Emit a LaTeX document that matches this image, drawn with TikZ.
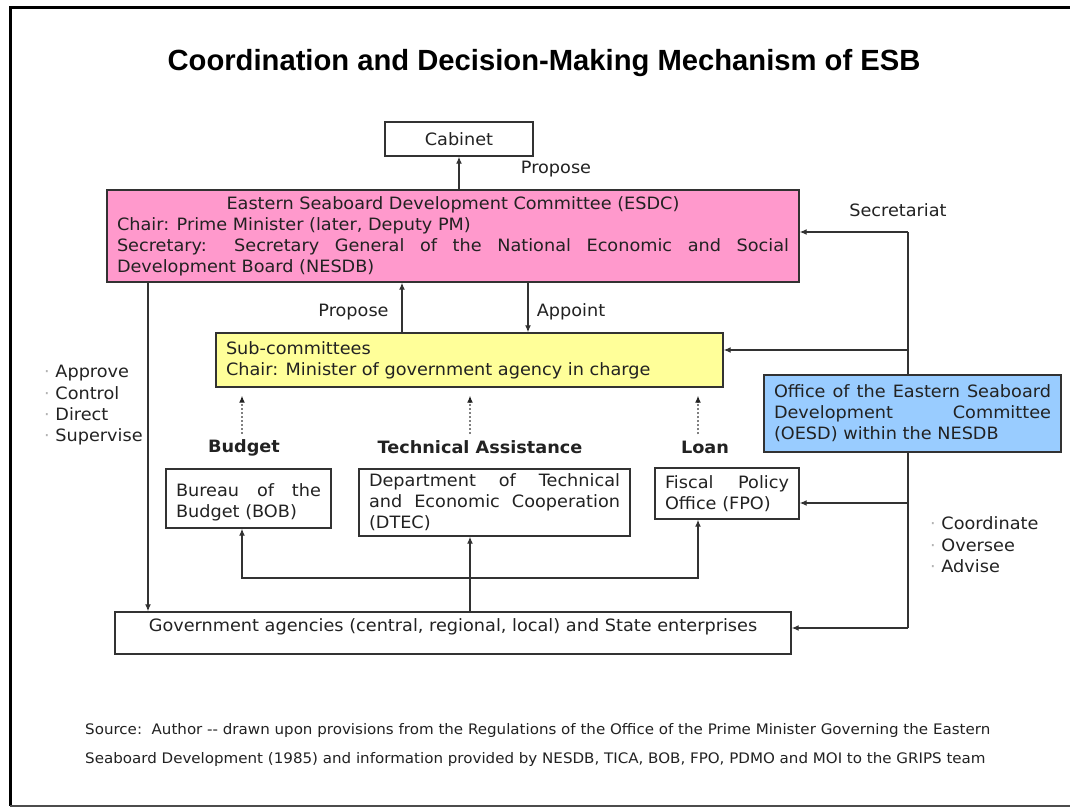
\documentclass[tikz,border=0pt]{standalone}
\usepackage{fontspec}
\setmainfont{DejaVu Sans}[FakeStretch=1.04]
\newfontfamily\titlefont{Liberation Sans}
\usetikzlibrary{arrows.meta}
\definecolor{esdcpink}{RGB}{255,153,204}
\definecolor{subyellow}{RGB}{255,255,153}
\definecolor{oesdblue}{RGB}{153,204,255}
\definecolor{ink}{RGB}{34,34,34}
\definecolor{linegray}{RGB}{50,50,50}
\newcommand\rs{\spaceskip=0pt\xspaceskip=0pt\relax}
\newcommand\spreadline[2]{\makebox[#1][s]{\rs #2}}
\tikzset{
  box/.style={draw=linegray, line width=1.4pt, inner xsep=10pt, inner ysep=0pt, align=left, text=ink, font=\fontsize{17}{21}\selectfont},
  conn/.style={draw=linegray, line width=1.3pt, -{Latex[length=7pt,width=6pt]}},
  plain/.style={draw=linegray, line width=1.3pt},
  dotconn/.style={draw=gray, line width=1.3pt, dash pattern=on 2pt off 2pt, -{Latex[length=7pt,width=6pt,color=ink]}},
  lbl/.style={text=ink, font=\fontsize{17}{21}\selectfont, inner sep=0pt},
  blbl/.style={text=ink, font=\fontsize{17}{21}\selectfont\bfseries, inner sep=0pt},
  item/.style={lbl, anchor=base west},
  srcline/.style={text=ink, font=\fontsize{14.5}{18}\selectfont, inner sep=0pt, anchor=base west},
}
\begin{document}
\begin{tikzpicture}[x=1pt,y=-1pt]
\useasboundingbox (0,0) rectangle (1070,808);
\fill[white] (0,0) rectangle (1070,808);
% frame
\draw[line width=3pt, black] (1072,8) -- (10,8) -- (10,806);
\draw[line width=2pt, black!70] (10,806) -- (1072,806);
% title
\node[font=\titlefont\bfseries\fontsize{29.2}{34}\selectfont, text=black] (title) at (544,63) {Coordination and Decision-Making Mechanism of ESB};
% trunk (behind OESD box)
\coordinate (tt) at (908,232);
\coordinate (ts) at (908,350);
\coordinate (tf) at (908,503);
\coordinate (tb) at (908,628);
\draw[plain] (tt) -- (tb);
% boxes
\node[box, align=center, text width=128pt, minimum height=34pt] (cab) at (459,139) {Cabinet};
\node[box, fill=esdcpink, text width=672pt, minimum height=92pt] (esdc) at (453,236)
  {\rs\makebox[672pt]{Eastern Seaboard Development Committee (ESDC)}\\
   Chair: Prime Minister (later, Deputy PM)\\
   \spreadline{672pt}{Secretary: Secretary General of the National Economic and Social}\\
   Development Board (NESDB)};
\node[box, fill=subyellow, text width=487pt, minimum height=54pt] (sub) at (469.5,360)
  {\rs Sub-committees\\Chair: Minister of government agency in charge};
\node[box, text width=145pt, minimum height=59pt, text depth=16pt] (bob) at (248.5,498.5)
  {\spreadline{145pt}{Bureau of the}\\Budget (BOB)};
\node[box, text width=251pt, minimum height=67pt] (dtec) at (494.5,502.5)
  {\spreadline{251pt}{Department of Technical}\\\spreadline{251pt}{and Economic Cooperation}\\(DTEC)};
\node[box, text width=124pt, minimum height=51pt] (fpo) at (727,493.5)
  {\spreadline{124pt}{Fiscal Policy}\\Office (FPO)};
\node[box, fill=oesdblue, text width=277pt, minimum height=77pt] (oesd) at (912.5,413.5)
  {\spreadline{277pt}{Office of the Eastern Seaboard}\\\spreadline{277pt}{Development Committee}\\(OESD) within the NESDB};
\node[box, align=center, text width=656pt, minimum height=42pt, text depth=16pt] (gov) at (453,633)
  {Government agencies (central, regional, local) and State enterprises};
% labels
\node[lbl] (p1) at (556,169) {Propose};
\node[lbl] (p2) at (353.5,312) {Propose};
\node[lbl] (ap) at (571,312) {Appoint};
\node[lbl] (sec) at (898,210) {Secretariat};
\node[blbl] (budget) at (244,448) {Budget};
\node[blbl] (ta) at (480,447) {Technical Assistance};
\node[blbl] (loan) at (705,447) {Loan};
% lists
\node[item] (a1) at (44,377) {\textcolor{gray!60}{·} Approve};
\node[item] (a2) at (44,399) {\textcolor{gray!60}{·} Control};
\node[item] (a3) at (44,420) {\textcolor{gray!60}{·} Direct};
\node[item] (a4) at (44,441) {\textcolor{gray!60}{·} Supervise};
\node[item] (c1) at (930,529) {\textcolor{gray!60}{·} Coordinate};
\node[item] (c2) at (930,551) {\textcolor{gray!60}{·} Oversee};
\node[item] (c3) at (930,572) {\textcolor{gray!60}{·} Advise};
% source
\node[srcline] (s1) at (85,734) {Source:\ \ Author -{}- drawn upon provisions from the Regulations of the Office of the Prime Minister Governing the Eastern};
\node[srcline] (s2) at (85,763) {Seaboard Development (1985) and information provided by NESDB, TICA, BOB, FPO, PDMO and MOI to the GRIPS team};
% connectors
\draw[conn] (cab.south |- esdc.north) -- (cab.south);
\draw[conn] (sub.north -| 402,0) -- (esdc.south -| 402,0);
\draw[conn] (esdc.south -| 528,0) -- (sub.north -| 528,0);
\draw[conn] (esdc.south -| 148,0) -- (gov.north -| 148,0);
\draw[conn] (tt) -- (tt -| esdc.east);
\draw[conn] (ts) -- (ts -| sub.east);
\draw[conn] (tf) -- (tf -| fpo.east);
\draw[conn] (tb) -- (tb -| gov.east);
\draw[dotconn] ([yshift=6pt]budget.north -| 242,0) -- ([yshift=-8pt]sub.south -| 242,0);
\draw[dotconn] ([yshift=6pt]ta.north -| 470,0) -- ([yshift=-8pt]sub.south -| 470,0);
\draw[dotconn] ([yshift=6pt]loan.north -| 698,0) -- ([yshift=-8pt]sub.south -| 698,0);
\coordinate (hb) at (242,578);
\coordinate (hf) at (698,578);
\draw[conn] (hf) -- (hb) -- (hb |- bob.south);
\draw[conn] (hb) -- (hf) -- (hf |- fpo.south);
\draw[conn] (gov.north -| 470,0) -- (dtec.south -| 470,0);
\end{tikzpicture}
\end{document}
